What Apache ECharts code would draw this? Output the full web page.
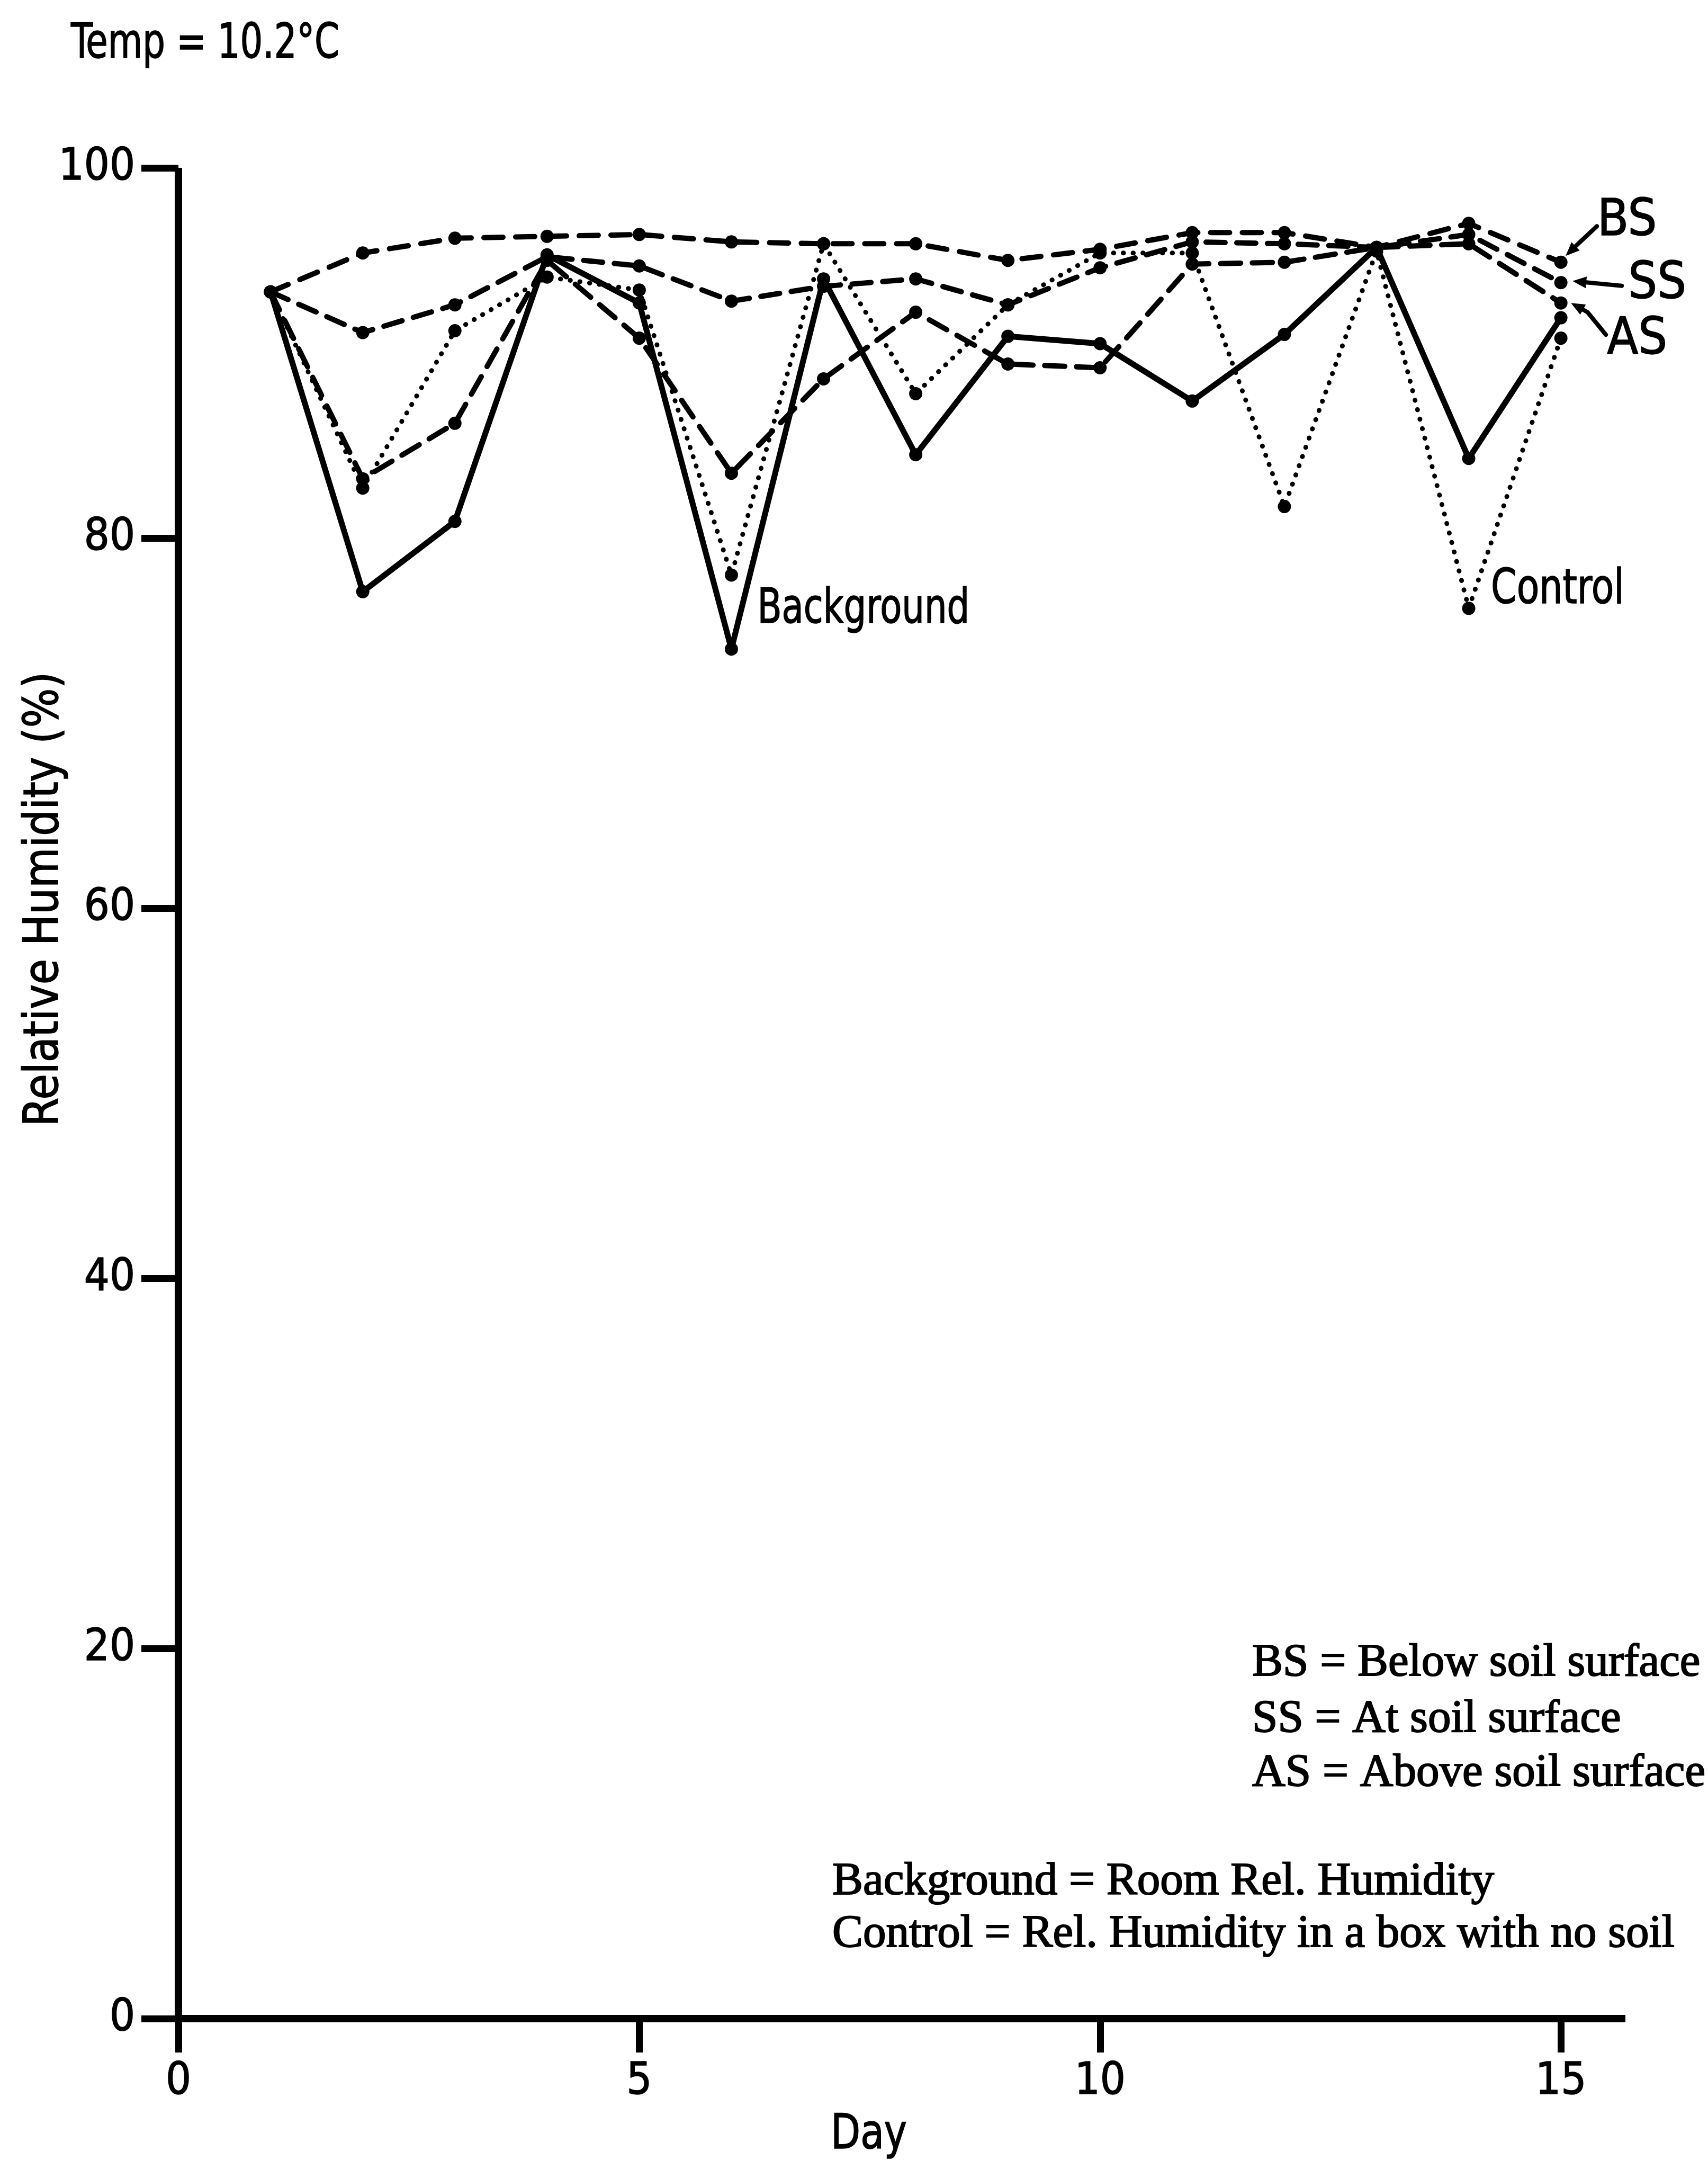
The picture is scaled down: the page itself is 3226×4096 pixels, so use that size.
<!DOCTYPE html>
<html>
<head>
<meta charset="utf-8">
<script src="https://cdn.jsdelivr.net/npm/echarts@6/dist/echarts.min.js"></script>
<style>
  html, body { margin: 0; padding: 0; background: #ffffff; }
  #chart { width: 3226px; height: 4096px; }
</style>
</head>
<body>
<div id="chart"></div>
<script>
// Day of measurement
const days = [1, 2, 3, 4, 5, 6, 7, 8, 9, 10, 11, 12, 13, 14, 15];

// Relative humidity (%) per day
const belowSoil  = [93.3, 95.4, 96.2, 96.3, 96.4, 96.0, 95.9, 95.9, 95.0, 95.6, 96.5, 96.5, 95.7, 97.0, 94.9];
const atSoil     = [93.3, 91.1, 92.6, 95.2, 94.7, 92.8, 93.6, 94.0, 92.6, 94.6, 96.0, 95.9, 95.7, 96.4, 93.8];
const aboveSoil  = [93.3, 83.2, 86.2, 95.0, 90.8, 83.5, 88.6, 92.2, 89.4, 89.2, 94.8, 94.9, 95.7, 95.9, 92.7];
const control    = [93.3, 82.7, 91.2, 94.1, 93.4, 78.0, 95.9, 87.8, 92.6, 95.4, 95.4, 81.7, 95.5, 76.2, 90.8];
const background = [93.3, 77.1, 80.9, 95.3, 92.7, 74.0, 94.0, 84.5, 90.9, 90.5, 87.4, 91.0, 95.7, 84.3, 91.9];

// Axis ticks
const dayTicks = [0, 5, 10, 15];
const humidityMin = 0, humidityMax = 100, humidityStep = 20;
const dayMin = 0, dayMax = 15.7;

// Text
const tempNote = 'Temp = 10.2°C';
const yTitle = 'Relative Humidity (%)';
const xTitle = 'Day';
const keyLines = [
  'BS = Below soil surface',
  'SS = At soil surface',
  'AS = Above soil surface',
  'Background = Room Rel. Humidity',
  'Control = Rel. Humidity in a box with no soil'
];

const PLOT_FONT = '"Liberation Sans Narrow", "DejaVu Sans Condensed", "Liberation Sans", sans-serif';
const NOTE_FONT = '"Liberation Serif", "DejaVu Serif", serif';
const INK = '#000000';

function pairs(vals) { return days.map((d, i) => [d, vals[i]]); }

function lineSeries(name, vals, type, width) {
  return {
    name: name,
    type: 'line',
    data: pairs(vals),
    symbol: 'circle',
    symbolSize: 25,
    itemStyle: { color: INK },
    lineStyle: { color: INK, width: width, type: type, cap: 'round', join: 'round' },
    emphasis: { disabled: true },
    silent: true,
    z: 3
  };
}

const chart = echarts.init(document.getElementById('chart'), null, { renderer: 'canvas' });

const axisLine = { show: true, lineStyle: { color: INK, width: 14, cap: 'butt' } };
const tickText = { fontFamily: PLOT_FONT, fontSize: 84, color: INK, textBorderColor: INK, textBorderWidth: 1.5 };

chart.setOption({
  animation: false,
  backgroundColor: '#ffffff',
  grid: { left: 337, right: 156, top: 317, bottom: 284, containLabel: false },
  xAxis: {
    type: 'value', min: dayMin, max: dayMax, interval: 5,
    axisLine: axisLine,
    axisTick: { show: true, inside: false, length: 64, customValues: dayTicks, lineStyle: { color: INK, width: 13 } },
    axisLabel: Object.assign({ show: true, customValues: dayTicks, margin: 78 }, tickText),
    splitLine: { show: false }
  },
  yAxis: {
    type: 'value', min: humidityMin, max: humidityMax, interval: humidityStep,
    axisLine: axisLine,
    axisTick: { show: true, inside: false, length: 70, lineStyle: { color: INK, width: 13 } },
    axisLabel: Object.assign({ show: true, margin: 82 }, tickText),
    splitLine: { show: false }
  },
  series: [
    lineSeries('Background', background, 'solid', 11),
    lineSeries('Control', control, [0.5, 18], 9),
    lineSeries('AS', aboveSoil, [38, 22], 10),
    lineSeries('SS', atSoil, [36, 22], 10),
    lineSeries('BS', belowSoil, [36, 24], 10)
  ]
});

// Annotations: titles, key, point tags and the arrowed BS / SS / AS tags at day 15
function px(day, val) { return chart.convertToPixel({ xAxisIndex: 0, yAxisIndex: 0 }, [day, val]); }

function arrow(base, pts) {
  const abs = pts.map(p => [base[0] + p[0], base[1] + p[1]]);
  const tip = abs[abs.length - 1];
  const prev = abs[abs.length - 2];
  const dx = tip[0] - prev[0], dy = tip[1] - prev[1];
  const len = Math.hypot(dx, dy);
  const ux = dx / len, uy = dy / len;
  const hl = 26, hw = 11;
  const bx = tip[0] - ux * hl, by = tip[1] - uy * hl;
  return [
    { type: 'polyline', shape: { points: abs.slice(0, -1).concat([[bx, by]]) },
      style: { stroke: INK, lineWidth: 8, fill: null, lineCap: 'round', lineJoin: 'round' }, z: 10 },
    { type: 'polygon', shape: { points: [tip, [bx - uy * hw, by + ux * hw], [bx + uy * hw, by - ux * hw]] },
      style: { fill: INK }, z: 10 }
  ];
}

function plotText(x, y, text, opts) {
  opts = opts || {};
  return { type: 'text', x: x, y: y, z: 10, rotation: opts.rotation || 0,
    scaleX: opts.scaleX || 1,
    style: { text: text, fontFamily: PLOT_FONT, fontSize: opts.size || 90, fill: INK,
      stroke: INK, lineWidth: 1.5,
      align: opts.align || 'left', verticalAlign: 'middle' } };
}

const last = days.length - 1;
const pBS = px(days[last], belowSoil[last]);
const pSS = px(days[last], atSoil[last]);
const pAS = px(days[last], aboveSoil[last]);
const pBg = px(days[5], background[5]);
const pCt = px(days[13], control[13]);

const graphics = [];
graphics.push(...arrow(pBS, [[68, -68], [38, -40], [9, -12]]));
graphics.push(plotText(pBS[0] + 125, pBS[1] - 76, 'BS', { size: 96, align: 'center' }));
graphics.push(...arrow(pSS, [[115, 6], [22, -3]]));
graphics.push(plotText(pSS[0] + 182, pSS[1] + 4, 'SS', { size: 96, align: 'center' }));
graphics.push(...arrow(pAS, [[85, 60], [50, 17], [19, 0]]));
graphics.push(plotText(pAS[0] + 144, pAS[1] + 71, 'AS', { size: 96, align: 'center' }));

graphics.push(plotText(pBg[0] + 49, pBg[1] - 73, 'Background', { scaleX: 0.83 }));
graphics.push(plotText(pCt[0] + 42, pCt[1] - 33, 'Control', { scaleX: 0.86 }));

graphics.push(plotText(134, 86, tempNote, { scaleX: 0.83 }));
graphics.push(plotText(86, 1698, yTitle, { rotation: Math.PI / 2, align: 'center', scaleX: 0.97 }));
graphics.push(plotText(1641, 4034, xTitle, { align: 'center', scaleX: 0.9 }));

const keyPos = [[2365, 3141], [2365, 3247], [2365, 3349], [1572, 3554], [1572, 3653]];
keyLines.forEach((t, i) => {
  graphics.push({ type: 'text', x: keyPos[i][0], y: keyPos[i][1], z: 10,
    style: { text: t, fontFamily: NOTE_FONT, fontSize: 87, fill: INK, stroke: INK, lineWidth: 2, align: 'left', verticalAlign: 'middle' } });
});

chart.setOption({ graphic: graphics });
</script>
</body>
</html>
